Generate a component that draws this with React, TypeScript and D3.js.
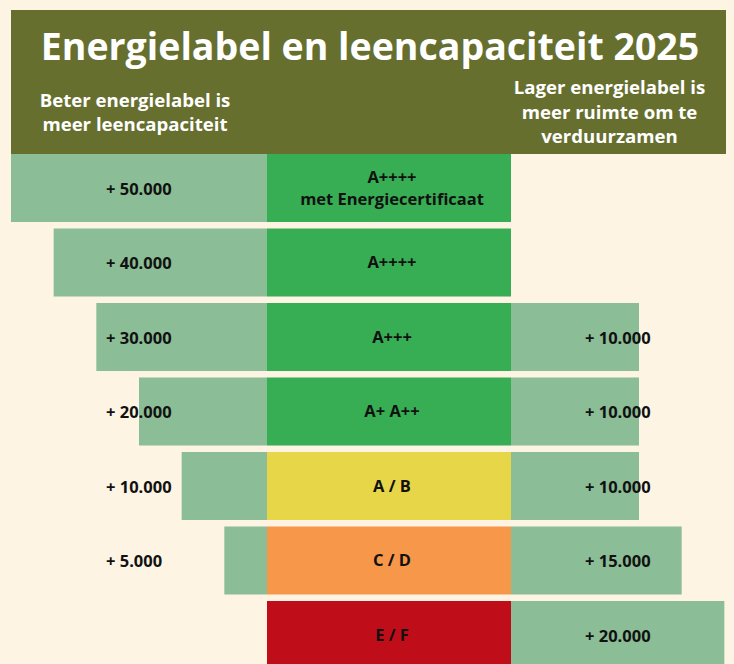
import * as d3 from 'd3'

const WIDTH = 734
const HEIGHT = 664

// ── Data ──────────────────────────────────────────────────────────────────────
const LABELS = ['A++++ met Energiecertificaat', 'A++++', 'A+++', 'A+ A++', 'A / B', 'C / D', 'E / F']
const LABEL_LINES = [['A++++', 'met Energiecertificaat'], ['A++++'], ['A+++'], ['A+ A++'], ['A / B'], ['C / D'], ['E / F']]
const LABEL_COLORS = ['#37ad54', '#37ad54', '#37ad54', '#37ad54', '#e8d649', '#f7974a', '#c00d1a']
// extra leencapaciteit (text) and bar length in steps
const LEFT_VALUES = [50000, 40000, 30000, 20000, 10000, 5000, 0]
const LEFT_STEPS = [6, 5, 4, 3, 2, 1, 0]
// extra ruimte om te verduurzamen
const RIGHT_VALUES = [0, 0, 10000, 10000, 10000, 15000, 20000]
const RIGHT_STEPS = [0, 0, 3, 3, 3, 4, 5]

const TITLE = 'Energielabel en leencapaciteit 2025'
const SUB_LEFT = ['Beter energielabel is', 'meer leencapaciteit']
const SUB_RIGHT = ['Lager energielabel is', 'meer ruimte om te', 'verduurzamen']

const BG = '#fef4e4'
const HEADER = '#676f2f'
const BAR = '#8bbd96'
const FONT = "'Open Sans', 'Noto Sans', sans-serif"

const CENTER = { left: 267, right: 511 }

export default function App() {
  const fmt = (v: number) => '+ ' + d3.format(',')(v).replace(/,/g, '.')

  const y = d3.scaleBand<string>()
    .domain(LABELS)
    .range([154, 669])
    .paddingInner(0.087)
    .paddingOuter(0)

  const len = d3.scaleLinear([0, 6], [0, 256])
  const cx = (CENTER.left + CENTER.right) / 2 + 3

  return (
    <svg width={WIDTH} height={HEIGHT} style={{ position: 'absolute', left: 0, top: 0, fontFamily: FONT }}>
      <rect width={WIDTH} height={HEIGHT} fill={BG} />

      {/* ── Header ───────────────────────────────────────────────── */}
      <rect x={11} y={10} width={715} height={144} fill={HEADER} />
      <text x={370} y={60} textAnchor="middle" fill="#fff" fontWeight={700} fontSize={37.5}>{TITLE}</text>
      {SUB_LEFT.map((t, i) => (
        <text key={t} x={135} y={107 + i * 24} textAnchor="middle" fill="#fff" fontWeight={700} fontSize={18.6}>{t}</text>
      ))}
      {SUB_RIGHT.map((t, i) => (
        <text key={t} x={609.5} y={94 + i * 24.5} textAnchor="middle" fill="#fff" fontWeight={700} fontSize={18.6}>{t}</text>
      ))}

      {/* ── Rows ─────────────────────────────────────────────────── */}
      {LABELS.map((lab, i) => {
        const top = y(lab)!
        const h = y.bandwidth()
        const mid = top + h / 2
        const lw = len(LEFT_STEPS[i])
        const rw = len(RIGHT_STEPS[i])
        const lines = LABEL_LINES[i]
        return (
          <g key={lab}>
            {lw > 0 && <rect x={CENTER.left - lw} y={top} width={lw} height={h} fill={BAR} />}
            {rw > 0 && <rect x={CENTER.right} y={top} width={rw} height={h} fill={BAR} />}
            <rect x={CENTER.left} y={top} width={CENTER.right - CENTER.left} height={h} fill={LABEL_COLORS[i]} />
            {lines.map((t, j) => (
              <text key={t} x={cx} y={mid + (j - (lines.length - 1) / 2) * 22} dy="0.35em"
                textAnchor="middle" fontWeight={700} fontSize={16.5} fill="#111">{t}</text>
            ))}
            {LEFT_VALUES[i] > 0 && (
              <text x={106} y={mid + 1} dy="0.35em" fontWeight={700} fontSize={16.5} fill="#111">{fmt(LEFT_VALUES[i])}</text>
            )}
            {RIGHT_VALUES[i] > 0 && (
              <text x={585} y={mid + 1} dy="0.35em" fontWeight={700} fontSize={16.5} fill="#111">{fmt(RIGHT_VALUES[i])}</text>
            )}
          </g>
        )
      })}
    </svg>
  )
}
